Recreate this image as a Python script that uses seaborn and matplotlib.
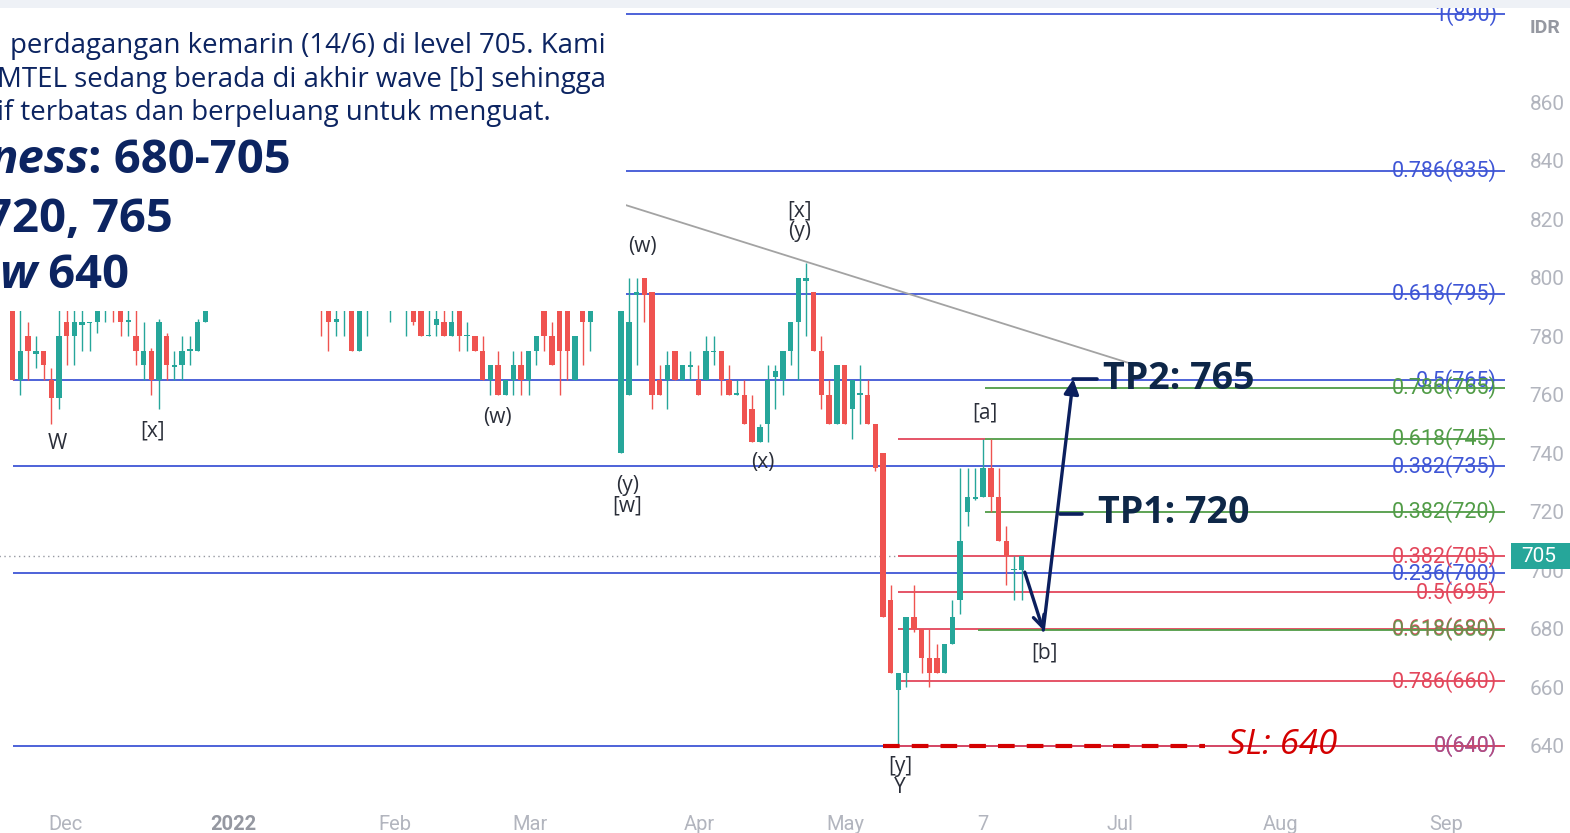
import numpy as np
import pandas as pd
import matplotlib
matplotlib.use("Agg")
import matplotlib.pyplot as plt
import seaborn as sns
from matplotlib.patches import Rectangle

# daily candles, MTEL (IDR)
opens = [790, 765, 780, 774, 775, 765, 759, 785, 780, 784, 784.5, 785, 790, 792, 792, 785, 780, 770, 775, 765,
         780, 769.5, 770, 775, 775, 785, 790, 798, 795, 808, 802, 810, 815, 810, 805, 800, 812, 808, 798, 800,
         795, 792, 785, 790, 795, 775, 792, 795, 800, 792, 798, 792, 795, 795, 780, 784, 785, 780, 790, 780,
         780, 775, 765, 770, 760, 765, 770, 765, 775, 790, 780, 792, 790, 765, 790, 785, 792, 798, 792, 740,
         760, 794, 800, 795, 765, 765, 775, 765, 769.5, 765, 765, 774.5, 775, 765, 760, 760, 755, 744, 750, 766,
         765, 775, 785, 799, 795, 775, 760, 750, 770, 755, 760, 760, 750, 740, 690, 659, 665, 684, 680, 670,
         670, 665, 675, 690, 720, 724.5, 725, 735, 725, 710, 700, 700]
highs = [792, 789, 785, 780, 775, 769, 790, 790, 789, 790, 785, 792, 796, 795, 795, 790, 790, 785, 776, 786,
         781, 775, 780, 780, 786, 795, 800, 805, 810, 815, 812, 820, 825, 818, 812, 815, 820, 812, 805, 808,
         798, 793, 792, 800, 797, 795, 798, 805, 810, 798, 805, 800, 798, 797, 792, 792, 792, 795, 793, 785,
         780, 780, 770, 775, 765, 775, 775, 775, 780, 795, 785, 795, 795, 780, 795, 795, 800, 805, 798, 795,
         800, 800, 800, 795, 770, 775, 775, 770, 775, 770, 780, 780, 775, 770, 765, 765, 760, 750, 770, 770,
         775, 785, 800, 805, 795, 780, 765, 770, 770, 765, 770, 765, 750, 740, 695, 665, 684, 695, 680, 680,
         675, 675, 690, 735, 735, 735, 745, 745, 735, 715, 705, 705]
lows = [765, 760, 765, 769, 765, 750, 755, 770, 770, 775, 775, 781, 785, 785, 780, 780, 770, 765, 760, 755,
        765, 765, 765, 770, 775, 785, 789, 792, 793, 800, 798, 805, 808, 800, 795, 798, 805, 795, 792, 790,
        780, 775, 780, 780, 775, 775, 780, 790, 795, 785, 790, 780, 784, 780, 780, 780, 780, 780, 775, 775,
        775, 765, 760, 760, 760, 760, 760, 760, 770, 775, 770, 760, 765, 765, 770, 775, 789, 790, 789, 740,
        760, 770, 785, 755, 760, 755, 765, 765, 765, 760, 765, 770, 760, 760, 760, 750, 744, 744, 744, 755,
        760, 770, 765, 780, 775, 755, 750, 750, 750, 745, 750, 750, 734, 684, 665, 640, 660, 679, 665, 660,
        665, 665, 675, 685, 715, 724, 725, 720, 710, 695, 690, 690]
closes = [765, 775, 775, 775, 770, 759, 780, 780, 785, 785, 785, 790, 792, 790, 785, 785.5, 775, 775, 765, 785,
          770, 770, 775, 775.5, 785, 792, 798, 795, 808, 802, 810, 815, 810, 805, 800, 812, 808, 798, 800, 795,
          790, 785, 786, 795, 775, 792, 795, 800, 798, 795, 795, 796, 785, 780, 780.5, 786, 780, 785, 780, 780.5,
          775, 765, 770, 760, 765, 770, 765, 775, 780, 780, 770, 775, 775, 780, 785, 792, 798, 792, 790, 792,
          785, 795, 794, 760, 760, 770, 765, 770, 770, 760, 775, 775, 765, 760, 760.5, 750, 744, 749, 765, 768,
          775, 785, 800, 800, 775, 760, 750, 770, 750, 765, 760.5, 750, 735, 684, 665, 665, 684, 680, 670, 665,
          665, 675, 684, 710, 725, 725, 735, 725, 710, 705, 700.5, 705]

# fibonacci levels: (price, label)
blue_levels = [890, 836.5, 794.5, 765, 735.5, 699, 640]
blue_labels = ["1(890)", "0.786(835)", "0.618(795)", "0.5(765)", "0.382(735)", "0.236(700)", "0(640)"]
red_levels = [704.9, 692.5, 680.1, 662.2, 640]
red_labels = ["0.382(705)", "0.5(695)", "0.618(680)", "0.786(660)", "0(640)"]
green_levels = [762.4, 745, 720, 679.8]
green_labels = ["0.786(765)", "0.618(745)", "0.382(720)", "0.618(680)"]

price_ticks = [640, 660, 680, 700, 720, 740, 760, 780, 800, 820, 840, 860]
month_labels = ["Dec", "2022", "Feb", "Mar", "Apr", "May", "7", "Jul", "Aug", "Sep"]
month_pos = [6.8, 28.6, 49.6, 67.2, 89.1, 108.1, 125.9, 143.8, 164.6, 186.1]

df = pd.DataFrame({"open": opens, "high": highs, "low": lows, "close": closes})
df["bar"] = np.arange(len(df))
df["up"] = df["close"] >= df["open"]

sns.set_theme(style="white")
plt.rcParams["font.family"] = ["Open Sans", "DejaVu Sans"]

W, H = 1570, 833
fig = plt.figure(figsize=(W / 100, H / 100), dpi=100)
ax = fig.add_axes([0, 1 - 805 / H, 1510 / W, (805 - 8) / H])
ax.set_xlim(-1.65, 194.4)
ax.set_ylim(619.84, 892.14)
sns.despine(ax=ax, left=True, bottom=True, right=True, top=True)

TEAL, RED = "#26a69a", "#ef5350"
BLUE, FRED, GREEN = "#3f56d6", "#e3475c", "#519c47"
NAVY = "#0b1f5e"

# candles
cols = np.where(df["up"], TEAL, RED)
ax.vlines(df["bar"], df["low"], df["high"], colors=cols, lw=1.0, zorder=3)
body_lo = df[["open", "close"]].min(axis=1)
body_h = (df["close"] - df["open"]).abs().clip(lower=0.5)
ax.bar(df["bar"], body_h, bottom=body_lo, width=0.7, color=cols, linewidth=0, zorder=3)

# last price dotted line
ax.hlines(705, -2, 115, colors="#9598a1", lw=1.0, linestyles=(0, (1, 2.5)), zorder=2)

# fibonacci lines
right_end, label_x = 193.7, 192.7
lab_kw = dict(ha="right", va="center", fontsize=15.5, family=["Roboto", "DejaVu Sans"], zorder=6)
for lv, lb in zip(blue_levels, blue_labels):
    ax.hlines(lv, 0, right_end, colors=BLUE, lw=1.3, zorder=2)
    ax.text(label_x, lv, lb, color=BLUE, **lab_kw)
ax.hlines(745, 114.9, 126.2, colors=FRED, lw=1.3, zorder=2)
for lv, lb in zip(red_levels, red_labels):
    ax.hlines(lv, 114.9, right_end, colors=FRED, lw=1.3, zorder=2)
    ax.text(label_x, lv, lb, color=FRED, alpha=0.75 if lv == 640 else 1, **lab_kw)
for lv, lb in zip(green_levels, green_labels):
    start = 125.3 if lb.endswith("(680)") else 126.2
    ax.hlines(lv, start, right_end, colors=GREEN, lw=1.3, zorder=2.5)
    ax.text(label_x, lv, lb, color=GREEN, alpha=0.8 if lb.endswith("(680)") else 1, **lab_kw)

# trend line
ax.plot([79.6, 145.7], [824.8, 770.2], color="#a3a3a3", lw=1.3, zorder=2)

# stop loss dashed line
ax.plot([113, 154.8], [640, 640], color="#d40000", lw=3.0, dashes=(4.0, 2.9), zorder=5)
ax.text(157.8, 640.5, "SL: 640", color="#d40000", fontsize=25, style="italic", va="center", ha="left", zorder=6)

# wave labels
wave_kw = dict(ha="center", va="center", color="#2a2e39", fontsize=15, linespacing=0.95, zorder=4)
for x, y, s in [(5.75, 743.5, "W"), (18.1, 747.6, "[x]"), (62.9, 752.4, "(w)"), (79.8, 725.4, "(y)\n[w]"),
                (81.8, 810.8, "(w)"), (102.2, 819.4, "[x]\n(y)"), (97.4, 737.0, "(x)"), (126.2, 753.8, "[a]"),
                (115.2, 629.4, "[y]\nY"), (134.0, 671.8, "[b]")]:
    ax.text(x, y, s, **wave_kw)

# projected path and targets
ax.annotate("", xy=(133.8, 679.6), xytext=(131.4, 699.4),
            arrowprops=dict(arrowstyle="->", color=NAVY, lw=2.4, mutation_scale=20, shrinkA=0, shrinkB=0), zorder=6)
ax.annotate("", xy=(137.7, 765.4), xytext=(133.8, 679.6),
            arrowprops=dict(arrowstyle="-|>", color=NAVY, lw=2.4, mutation_scale=22, shrinkA=0, shrinkB=0), zorder=6)
ax.plot([137.7, 140.8], [765.4, 765.4], color=NAVY, lw=2.6, zorder=6)
ax.plot([136.0, 138.8], [719.3, 719.3], color=NAVY, lw=2.6, zorder=6)
ax.text(141.6, 765.4, "TP2: 765", color="#0e2748", fontsize=27, fontweight="bold", va="center", ha="left", zorder=6)
ax.text(140.9, 719.5, "TP1: 720", color="#0e2748", fontsize=27, fontweight="bold", va="center", ha="left", zorder=6)

# axes ticks
ax.yaxis.tick_right()
ax.set_yticks(price_ticks)
ax.set_yticklabels([str(t) for t in price_ticks])
ax.tick_params(axis="y", length=0, pad=14, labelsize=15, labelcolor="#b2b5be")
ax.set_xticks(month_pos)
ax.set_xticklabels(month_labels)
ax.tick_params(axis="x", length=0, pad=7, labelsize=14.5, labelcolor="#b2b5be")
for lab in ax.get_xticklabels() + ax.get_yticklabels():
    lab.set_family(["Roboto", "DejaVu Sans"])
ax.get_xticklabels()[1].set_fontweight("bold")
ax.get_xticklabels()[1].set_color("#9598a1")
ax.grid(False)

fig.text(1545 / W, 1 - 28 / H, "IDR", color="#9598a1", fontsize=14, fontweight="bold",
         family=["Roboto", "DejaVu Sans"], ha="center", va="center")
fig.patches.append(Rectangle((1511 / W, 1 - 569 / H), 59 / W, 26 / H, transform=fig.transFigure,
                             facecolor=TEAL, edgecolor="none", zorder=5))
fig.text(1539 / W, 1 - 556 / H, "705", color="white", fontsize=15, family=["Roboto", "DejaVu Sans"],
         ha="center", va="center", zorder=6)
fig.patches.append(Rectangle((0, 1 - 8 / H), 1, 8 / H, transform=fig.transFigure,
                             facecolor="#eef1f6", edgecolor="none", zorder=5))

# overlay text box on top-left
ax.add_patch(Rectangle((0, (805 - 311) / 797), 626 / 1510, 1, transform=ax.transAxes,
                       facecolor="white", edgecolor="none", zorder=10, clip_on=False))
TXT = "#0c2461"
for py, s, xr in [(53, "perdagangan kemarin (14/6) di level 705. Kami", 606),
                  (87, "MTEL sedang berada di akhir wave [b] sehingga", 606),
                  (120, "if terbatas dan berpeluang untuk menguat.", 551)]:
    fig.text(xr / W, 1 - py / H, s, color=TXT, fontsize=19.9, ha="right", va="baseline", zorder=11)

fig.canvas.draw()
renderer = fig.canvas.get_renderer()
for py, ital, bold, xr in [(173, "ness", ": 680-705", 291), (232, "", "720, 765", 173), (288, "w", " 640", 129)]:
    t = fig.text(xr / W, 1 - py / H, bold, color=TXT, fontsize=34, fontweight="bold",
                 ha="right", va="baseline", zorder=11)
    if ital:
        bb = t.get_window_extent(renderer)
        fig.text(bb.x0 / W, 1 - py / H, ital, color=TXT, fontsize=34, fontweight="bold", style="italic",
                 ha="right", va="baseline", zorder=11)

fig.savefig("out.png", dpi=100)
